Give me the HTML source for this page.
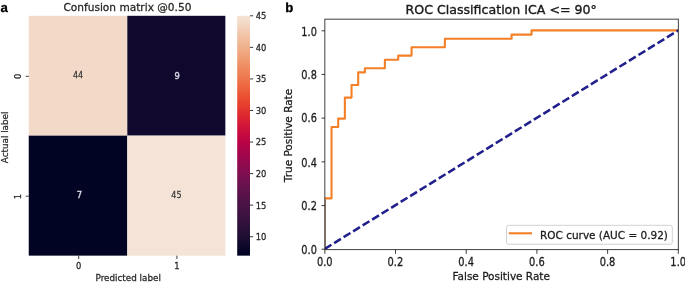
<!DOCTYPE html>
<html lang="en"><head><meta charset="utf-8"><title>Confusion matrix and ROC curve</title>
<style>html,body{margin:0;padding:0;background:#fff;overflow:hidden}body{width:685px;height:282px}</style></head>
<body>
<svg width="685" height="282" viewBox="0 0 685 282" style="display:block">
<defs><linearGradient id="cb" x1="0" y1="0" x2="0" y2="1"><stop offset="0.0000" stop-color="#f4e4d5"/><stop offset="0.0250" stop-color="#f3dbc8"/><stop offset="0.0500" stop-color="#f2d1ba"/><stop offset="0.0750" stop-color="#f1c6aa"/><stop offset="0.1000" stop-color="#f1bd9c"/><stop offset="0.1250" stop-color="#f0b38f"/><stop offset="0.1500" stop-color="#f0a880"/><stop offset="0.1750" stop-color="#f09e74"/><stop offset="0.2000" stop-color="#ef9267"/><stop offset="0.2250" stop-color="#ef875c"/><stop offset="0.2500" stop-color="#ee7c52"/><stop offset="0.2750" stop-color="#ee7047"/><stop offset="0.3000" stop-color="#ed643f"/><stop offset="0.3250" stop-color="#eb5636"/><stop offset="0.3500" stop-color="#e94a31"/><stop offset="0.3750" stop-color="#e63d2f"/><stop offset="0.4000" stop-color="#e12f2f"/><stop offset="0.4250" stop-color="#dc2432"/><stop offset="0.4500" stop-color="#d41837"/><stop offset="0.4750" stop-color="#cc103c"/><stop offset="0.5000" stop-color="#c40940"/><stop offset="0.5250" stop-color="#b90445"/><stop offset="0.5500" stop-color="#af0449"/><stop offset="0.5750" stop-color="#a3064c"/><stop offset="0.6000" stop-color="#99084e"/><stop offset="0.6250" stop-color="#8e0b4f"/><stop offset="0.6500" stop-color="#820d4f"/><stop offset="0.6750" stop-color="#770f4e"/><stop offset="0.7000" stop-color="#6b114d"/><stop offset="0.7250" stop-color="#61124b"/><stop offset="0.7500" stop-color="#571248"/><stop offset="0.7750" stop-color="#4d1346"/><stop offset="0.8000" stop-color="#471345"/><stop offset="0.8250" stop-color="#3e1342"/><stop offset="0.8500" stop-color="#36133e"/><stop offset="0.8750" stop-color="#2e113a"/><stop offset="0.9000" stop-color="#251036"/><stop offset="0.9250" stop-color="#1d0e31"/><stop offset="0.9500" stop-color="#120a2c"/><stop offset="0.9750" stop-color="#070527"/><stop offset="1.0000" stop-color="#000321"/></linearGradient><clipPath id="axclip"><rect x="324.85" y="19.15" width="353.44999999999993" height="230.5"/></clipPath></defs>
<rect width="685" height="282" fill="#fff"/>
<text x="0.4" y="11.6" font-family="Liberation Sans, Arial, sans-serif" font-weight="bold" font-size="13.2" fill="#000" stroke="#000" stroke-width="0.3" text-rendering="geometricPrecision">a</text>
<text x="285.2" y="11.6" font-family="Liberation Sans, Arial, sans-serif" font-weight="bold" font-size="13.2" fill="#000" stroke="#000" stroke-width="0.3" text-rendering="geometricPrecision">b</text>
<rect x="28.75" y="15.8" width="98.55" height="119.85" fill="#f3dac8"/>
<rect x="127.3" y="15.8" width="98.05" height="119.85" fill="#10092d"/>
<rect x="28.75" y="135.65" width="98.55" height="120.00" fill="#010422"/>
<rect x="127.3" y="135.65" width="98.05" height="120.00" fill="#f4e3d6"/>
<text transform="translate(127.40,11.20) scale(1.0,1.02)" text-anchor="middle" font-family="DejaVu Sans, Liberation Sans, sans-serif" font-size="10.6" fill="#262626" stroke="#262626" stroke-width="0.25">Confusion matrix @0.50</text>
<text transform="translate(78.05,78.40) scale(0.95,1.02)" text-anchor="middle" font-family="DejaVu Sans, Liberation Sans, sans-serif" font-size="8.4" fill="#3a3a3a" stroke="#3a3a3a" stroke-width="0.25">44</text>
<text transform="translate(177.10,78.75) scale(0.95,1.05)" text-anchor="middle" font-family="DejaVu Sans, Liberation Sans, sans-serif" font-size="8.8" fill="#d8d8e4" stroke="#d8d8e4" stroke-width="0.4">9</text>
<text transform="translate(79.30,198.35) scale(0.95,1.05)" text-anchor="middle" font-family="DejaVu Sans, Liberation Sans, sans-serif" font-size="8.8" fill="#d8d8e4" stroke="#d8d8e4" stroke-width="0.4">7</text>
<text transform="translate(176.45,198.40) scale(0.95,1.02)" text-anchor="middle" font-family="DejaVu Sans, Liberation Sans, sans-serif" font-size="8.4" fill="#3a3a3a" stroke="#3a3a3a" stroke-width="0.25">45</text>
<line x1="25.75" y1="76.30" x2="28.75" y2="76.30" stroke="#262626" stroke-width="0.9"/>
<text transform="translate(20.90,76.30) rotate(-90) scale(0.95,1.05)" text-anchor="middle" font-family="DejaVu Sans, Liberation Sans, sans-serif" font-size="8.8" fill="#262626" stroke="#262626" stroke-width="0.25">0</text>
<line x1="25.75" y1="196.20" x2="28.75" y2="196.20" stroke="#262626" stroke-width="0.9"/>
<text transform="translate(20.90,196.70) rotate(-90) scale(0.95,1.05)" text-anchor="middle" font-family="DejaVu Sans, Liberation Sans, sans-serif" font-size="8.8" fill="#262626" stroke="#262626" stroke-width="0.25">1</text>
<line x1="78.70" y1="255.65" x2="78.70" y2="259.05" stroke="#262626" stroke-width="0.9"/>
<text transform="translate(78.70,269.30) scale(0.95,1.05)" text-anchor="middle" font-family="DejaVu Sans, Liberation Sans, sans-serif" font-size="8.8" fill="#262626" stroke="#262626" stroke-width="0.25">0</text>
<line x1="176.90" y1="255.65" x2="176.90" y2="259.05" stroke="#262626" stroke-width="0.9"/>
<text transform="translate(176.90,269.30) scale(0.95,1.05)" text-anchor="middle" font-family="DejaVu Sans, Liberation Sans, sans-serif" font-size="8.8" fill="#262626" stroke="#262626" stroke-width="0.25">1</text>
<text transform="translate(128.20,281.00) scale(1.0,1.05)" text-anchor="middle" font-family="DejaVu Sans, Liberation Sans, sans-serif" font-size="8.8" fill="#262626" stroke="#262626" stroke-width="0.25">Predicted label</text>
<text transform="translate(8.00,137.40) rotate(-90) scale(1.0,1.05)" text-anchor="middle" font-family="DejaVu Sans, Liberation Sans, sans-serif" font-size="8.8" fill="#262626" stroke="#262626" stroke-width="0.25">Actual label</text>
<rect x="237.2" y="15.8" width="12.80" height="239.85" fill="url(#cb)"/>
<line x1="250.0" y1="236.71" x2="253.2" y2="236.71" stroke="#262626" stroke-width="0.9"/>
<text transform="translate(255.80,240.06) scale(0.95,1.05)" text-anchor="start" font-family="DejaVu Sans, Liberation Sans, sans-serif" font-size="8.8" fill="#262626" stroke="#262626" stroke-width="0.25">10</text>
<line x1="250.0" y1="205.16" x2="253.2" y2="205.16" stroke="#262626" stroke-width="0.9"/>
<text transform="translate(255.80,208.51) scale(0.95,1.05)" text-anchor="start" font-family="DejaVu Sans, Liberation Sans, sans-serif" font-size="8.8" fill="#262626" stroke="#262626" stroke-width="0.25">15</text>
<line x1="250.0" y1="173.60" x2="253.2" y2="173.60" stroke="#262626" stroke-width="0.9"/>
<text transform="translate(255.80,176.95) scale(0.95,1.05)" text-anchor="start" font-family="DejaVu Sans, Liberation Sans, sans-serif" font-size="8.8" fill="#262626" stroke="#262626" stroke-width="0.25">20</text>
<line x1="250.0" y1="142.04" x2="253.2" y2="142.04" stroke="#262626" stroke-width="0.9"/>
<text transform="translate(255.80,145.39) scale(0.95,1.05)" text-anchor="start" font-family="DejaVu Sans, Liberation Sans, sans-serif" font-size="8.8" fill="#262626" stroke="#262626" stroke-width="0.25">25</text>
<line x1="250.0" y1="110.48" x2="253.2" y2="110.48" stroke="#262626" stroke-width="0.9"/>
<text transform="translate(255.80,113.83) scale(0.95,1.05)" text-anchor="start" font-family="DejaVu Sans, Liberation Sans, sans-serif" font-size="8.8" fill="#262626" stroke="#262626" stroke-width="0.25">30</text>
<line x1="250.0" y1="78.92" x2="253.2" y2="78.92" stroke="#262626" stroke-width="0.9"/>
<text transform="translate(255.80,82.27) scale(0.95,1.05)" text-anchor="start" font-family="DejaVu Sans, Liberation Sans, sans-serif" font-size="8.8" fill="#262626" stroke="#262626" stroke-width="0.25">35</text>
<line x1="250.0" y1="47.36" x2="253.2" y2="47.36" stroke="#262626" stroke-width="0.9"/>
<text transform="translate(255.80,50.71) scale(0.95,1.05)" text-anchor="start" font-family="DejaVu Sans, Liberation Sans, sans-serif" font-size="8.8" fill="#262626" stroke="#262626" stroke-width="0.25">40</text>
<line x1="250.0" y1="15.80" x2="253.2" y2="15.80" stroke="#262626" stroke-width="0.9"/>
<text transform="translate(255.80,19.15) scale(0.95,1.05)" text-anchor="start" font-family="DejaVu Sans, Liberation Sans, sans-serif" font-size="8.8" fill="#262626" stroke="#262626" stroke-width="0.25">45</text>
<text transform="translate(501.20,13.60) scale(1.05,1.0)" text-anchor="middle" font-family="DejaVu Sans, Liberation Sans, sans-serif" font-size="12.0" fill="#1a1a1a" stroke="#1a1a1a" stroke-width="0.35">ROC Classification ICA &lt;= 90°</text>
<g clip-path="url(#axclip)"><line x1="324.85" y1="248.80" x2="324.85" y2="199.40" stroke="#9f7a62" stroke-width="2.1"/><path d="M324.85,198.40 L331.52,198.40 L331.52,127.00 L338.19,127.00 L338.19,118.60 L344.86,118.60 L344.86,97.60 L351.53,97.60 L351.53,85.00 L358.19,85.00 L358.19,72.40 L364.86,72.40 L364.86,68.20 L384.87,68.20 L384.87,59.80 L398.21,59.80 L398.21,55.60 L411.55,55.60 L411.55,47.20 L444.89,47.20 L444.89,38.80 L511.58,38.80 L511.58,34.60 L531.58,34.60 L531.58,30.40 L678.30,30.40" fill="none" stroke="#f38028" stroke-width="2.1" stroke-linejoin="round" stroke-linecap="square"/>
<line x1="324.85" y1="248.80" x2="678.30" y2="30.40" stroke="#22208c" stroke-width="2.55" stroke-dasharray="8.0 3.18" stroke-dashoffset="0.3"/></g>
<rect x="324.85" y="19.15" width="353.45" height="230.50" fill="none" stroke="#1f1f1f" stroke-width="0.85"/>
<line x1="324.85" y1="249.65" x2="324.85" y2="253.8" stroke="#1a1a1a" stroke-width="0.85"/>
<text transform="translate(324.75,266.30) scale(0.94,1.11)" text-anchor="middle" font-family="DejaVu Sans, Liberation Sans, sans-serif" font-size="10.5" fill="#1a1a1a" stroke="#1a1a1a" stroke-width="0.25">0.0</text>
 <line x1="321.55" y1="249.20" x2="324.85" y2="249.20" stroke="#1a1a1a" stroke-width="0.85"/>
<text transform="translate(316.90,254.30) scale(0.93,1.13)" text-anchor="end" font-family="DejaVu Sans, Liberation Sans, sans-serif" font-size="10.5" fill="#1a1a1a" stroke="#1a1a1a" stroke-width="0.25">0.0</text>
<line x1="395.54" y1="249.65" x2="395.54" y2="253.8" stroke="#1a1a1a" stroke-width="0.85"/>
<text transform="translate(395.44,266.30) scale(0.94,1.11)" text-anchor="middle" font-family="DejaVu Sans, Liberation Sans, sans-serif" font-size="10.5" fill="#1a1a1a" stroke="#1a1a1a" stroke-width="0.25">0.2</text>
 <line x1="321.55" y1="205.52" x2="324.85" y2="205.52" stroke="#1a1a1a" stroke-width="0.85"/>
<text transform="translate(316.90,209.90) scale(0.93,1.13)" text-anchor="end" font-family="DejaVu Sans, Liberation Sans, sans-serif" font-size="10.5" fill="#1a1a1a" stroke="#1a1a1a" stroke-width="0.25">0.2</text>
<line x1="466.23" y1="249.65" x2="466.23" y2="253.8" stroke="#1a1a1a" stroke-width="0.85"/>
<text transform="translate(466.13,266.30) scale(0.94,1.11)" text-anchor="middle" font-family="DejaVu Sans, Liberation Sans, sans-serif" font-size="10.5" fill="#1a1a1a" stroke="#1a1a1a" stroke-width="0.25">0.4</text>
 <line x1="321.55" y1="161.84" x2="324.85" y2="161.84" stroke="#1a1a1a" stroke-width="0.85"/>
<text transform="translate(316.90,166.60) scale(0.93,1.13)" text-anchor="end" font-family="DejaVu Sans, Liberation Sans, sans-serif" font-size="10.5" fill="#1a1a1a" stroke="#1a1a1a" stroke-width="0.25">0.4</text>
<line x1="536.92" y1="249.65" x2="536.92" y2="253.8" stroke="#1a1a1a" stroke-width="0.85"/>
<text transform="translate(536.82,266.30) scale(0.94,1.11)" text-anchor="middle" font-family="DejaVu Sans, Liberation Sans, sans-serif" font-size="10.5" fill="#1a1a1a" stroke="#1a1a1a" stroke-width="0.25">0.6</text>
 <line x1="321.55" y1="118.16" x2="324.85" y2="118.16" stroke="#1a1a1a" stroke-width="0.85"/>
<text transform="translate(316.90,122.10) scale(0.93,1.13)" text-anchor="end" font-family="DejaVu Sans, Liberation Sans, sans-serif" font-size="10.5" fill="#1a1a1a" stroke="#1a1a1a" stroke-width="0.25">0.6</text>
<line x1="607.61" y1="249.65" x2="607.61" y2="253.8" stroke="#1a1a1a" stroke-width="0.85"/>
<text transform="translate(607.51,266.30) scale(0.94,1.11)" text-anchor="middle" font-family="DejaVu Sans, Liberation Sans, sans-serif" font-size="10.5" fill="#1a1a1a" stroke="#1a1a1a" stroke-width="0.25">0.8</text>
 <line x1="321.55" y1="74.48" x2="324.85" y2="74.48" stroke="#1a1a1a" stroke-width="0.85"/>
<text transform="translate(316.90,78.60) scale(0.93,1.13)" text-anchor="end" font-family="DejaVu Sans, Liberation Sans, sans-serif" font-size="10.5" fill="#1a1a1a" stroke="#1a1a1a" stroke-width="0.25">0.8</text>
<line x1="678.30" y1="249.65" x2="678.30" y2="253.8" stroke="#1a1a1a" stroke-width="0.85"/>
<text transform="translate(678.20,266.30) scale(0.94,1.11)" text-anchor="middle" font-family="DejaVu Sans, Liberation Sans, sans-serif" font-size="10.5" fill="#1a1a1a" stroke="#1a1a1a" stroke-width="0.25">1.0</text>
 <line x1="321.55" y1="30.80" x2="324.85" y2="30.80" stroke="#1a1a1a" stroke-width="0.85"/>
<text transform="translate(316.90,35.80) scale(0.93,1.13)" text-anchor="end" font-family="DejaVu Sans, Liberation Sans, sans-serif" font-size="10.5" fill="#1a1a1a" stroke="#1a1a1a" stroke-width="0.25">1.0</text>
<text transform="translate(501.20,280.40) scale(1.0,1.08)" text-anchor="middle" font-family="DejaVu Sans, Liberation Sans, sans-serif" font-size="10.5" fill="#1a1a1a" stroke="#1a1a1a" stroke-width="0.25">False Positive Rate</text>
<text transform="translate(292.30,135.50) rotate(-90) scale(1.0,1.08)" text-anchor="middle" font-family="DejaVu Sans, Liberation Sans, sans-serif" font-size="10.5" fill="#1a1a1a" stroke="#1a1a1a" stroke-width="0.25">True Positive Rate</text>
<rect x="506.5" y="225.3" width="165.8" height="18.95" rx="2" ry="2" fill="#fff" fill-opacity="0.8" stroke="#ccc" stroke-width="0.9"/>
<line x1="509.8" y1="233.3" x2="531.0" y2="233.3" stroke="#f38028" stroke-width="2.1" stroke-linecap="square"/>
<text transform="translate(540.00,238.90) scale(1.0,1.06)" text-anchor="start" font-family="DejaVu Sans, Liberation Sans, sans-serif" font-size="10.5" fill="#1a1a1a" stroke="#1a1a1a" stroke-width="0.25">ROC curve (AUC = 0.92)</text>
</svg>
</body></html>
